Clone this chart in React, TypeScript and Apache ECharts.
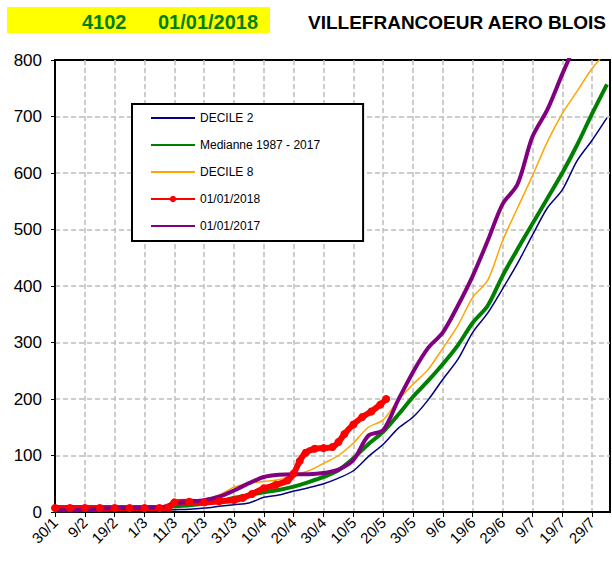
import React, { useEffect, useRef } from 'react';
import * as echarts from 'echarts';

const tickLabels = ['30/1', '9/2', '19/2', '1/3', '11/3', '21/3', '31/3', '10/4', '20/4', '30/4', '10/5', '20/5', '30/5', '9/6', '19/6', '29/6', '9/7', '19/7', '29/7'];

const days = [0, 5, 10, 15, 20, 25, 30, 35, 40, 45, 50, 55, 60, 65, 70, 75, 80, 85, 90, 95, 100, 105, 110, 115, 120, 125, 130, 135, 140, 145, 150, 155, 160, 165, 170, 175, 180, 185];
const decile2 = [1, 1, 1, 2, 2, 3, 3, 3, 4, 5, 7, 10, 13, 16, 26, 30, 37, 43, 50, 60, 73, 98, 120, 148, 168, 198, 235, 270, 318, 352, 395, 440, 490, 538, 570, 622, 658, 698];
const mediane = [3, 3, 4, 4, 5, 6, 7, 8, 10, 12, 15, 19, 25, 30, 35, 39, 45, 53, 62, 74, 95, 120, 142, 172, 204, 232, 262, 295, 335, 365, 418, 465, 510, 555, 600, 650, 705, 757];
const decile8 = [7, 7, 7, 7, 8, 8, 8, 9, 13, 17, 22, 30, 44, 51, 54, 57, 65, 73, 86, 100, 122, 150, 163, 198, 226, 252, 290, 330, 380, 410, 480, 538, 595, 655, 705, 745, 785, 815];
const year2017 = [3, 3, 4, 6, 7, 7, 8, 8, 15, 18, 21, 27, 38, 51, 62, 66, 67, 67, 69, 75, 92, 135, 145, 198, 248, 290, 318, 365, 418, 480, 545, 580, 664, 712, 775, 835, null, null];

const days2018 = [0, 5, 10, 15, 20, 25, 30, 35, 38, 40, 45, 50, 55, 60, 63, 66, 70, 74, 78, 80, 82, 84, 87, 90, 93, 95, 97, 100, 103, 106, 109, 111];
const year2018 = [7, 7, 7, 7, 7, 7, 7, 7, 8, 17, 18, 17, 19, 21, 25, 32, 42, 48, 56, 68, 90, 105, 112, 113, 115, 124, 138, 155, 168, 178, 190, 200];

const FONT = 'Liberation Sans, Arial, sans-serif';

const pairs = (xs: number[], ys: (number | null)[]) => xs.map((x, i) => [x, ys[i]]);

export default function App() {
  const ref = useRef<HTMLDivElement>(null);
  useEffect(() => {
    const chart = echarts.init(ref.current!, null, { renderer: 'svg' });
    const split = { show: true, showMinLine: false, showMaxLine: false, lineStyle: { color: '#bdbdbd', type: [5, 3], width: 1.5 } };
    const hideSym = { opacity: 0 };
    chart.setOption({
      animation: false,
      textStyle: { fontFamily: FONT },
      grid: { left: 55, right: 2, top: 60, bottom: 50, show: true, borderColor: '#000', borderWidth: 2, backgroundColor: '#fff' },
      graphic: [
        { type: 'rect', shape: { x: 7, y: 7, width: 263, height: 26 }, style: { fill: '#ffff00' } },
        { type: 'text', x: 82, y: 22, style: { text: '4102', font: `bold 20px ${FONT}`, fill: '#008000', verticalAlign: 'middle' } },
        { type: 'text', x: 158, y: 22, style: { text: '01/01/2018', font: `bold 20px ${FONT}`, fill: '#008000', verticalAlign: 'middle' } },
        { type: 'text', x: 308, y: 22, style: { text: 'VILLEFRANCOEUR AERO BLOIS', font: `bold 19px ${FONT}`, fill: '#000', verticalAlign: 'middle' } },
      ],
      legend: {
        orient: 'vertical',
        left: 132,
        top: 104,
        padding: [8, 43, 9, 18],
        itemWidth: 44,
        itemHeight: 8,
        itemGap: 15,
        backgroundColor: '#fff',
        borderColor: '#000',
        borderWidth: 2,
        textStyle: { fontSize: 12, color: '#000', fontFamily: FONT },
        data: [
          { name: 'DECILE 2', itemStyle: hideSym },
          { name: 'Medianne 1987 - 2017', itemStyle: hideSym },
          { name: 'DECILE 8', itemStyle: hideSym },
          { name: '01/01/2018' },
          { name: '01/01/2017', itemStyle: hideSym },
        ],
      },
      xAxis: {
        type: 'value',
        min: 0,
        max: 186,
        interval: 10,
        axisLine: { show: true, lineStyle: { color: '#000', width: 2 } },
        axisTick: { show: true, length: 5, lineStyle: { color: '#000' } },
        axisLabel: {
          rotate: 45,
          fontSize: 15,
          color: '#000',
          margin: 8,
          showMaxLabel: false,
          formatter: (v: number) => (v % 10 === 0 ? tickLabels[v / 10] ?? '' : ''),
        },
        splitLine: split,
      },
      yAxis: {
        type: 'value',
        min: 0,
        max: 800,
        interval: 100,
        axisLine: { show: true, lineStyle: { color: '#000', width: 2 } },
        axisTick: { show: true, length: 4, lineStyle: { color: '#000' } },
        axisLabel: { fontSize: 17, color: '#000', margin: 13 },
        splitLine: split,
      },
      series: [
        { name: 'DECILE 2', type: 'line', data: pairs(days, decile2), symbol: 'none', smooth: 0.3, lineStyle: { color: '#000080', width: 1.5 }, itemStyle: { color: '#000080' } },
        { name: 'Medianne 1987 - 2017', type: 'line', data: pairs(days, mediane), symbol: 'none', smooth: 0.3, lineStyle: { color: '#008000', width: 4 }, itemStyle: { color: '#008000' } },
        { name: 'DECILE 8', type: 'line', data: pairs(days, decile8), symbol: 'none', smooth: 0.3, lineStyle: { color: '#ffa500', width: 1.5 }, itemStyle: { color: '#ffa500' } },
        { name: '01/01/2018', type: 'line', data: pairs(days2018, year2018), symbol: 'circle', symbolSize: 8, showSymbol: true, smooth: 0.3, lineStyle: { color: '#ff0000', width: 6 }, itemStyle: { color: '#ff0000' } },
        { name: '01/01/2017', type: 'line', data: pairs(days, year2017), symbol: 'none', smooth: 0.3, lineStyle: { color: '#800080', width: 4 }, itemStyle: { color: '#800080' } },
      ],
    });
    return () => chart.dispose();
  }, []);
  return <div ref={ref} style={{ position: 'absolute', left: 0, top: 0, width: 612, height: 562, background: '#fff' }} />;
}
